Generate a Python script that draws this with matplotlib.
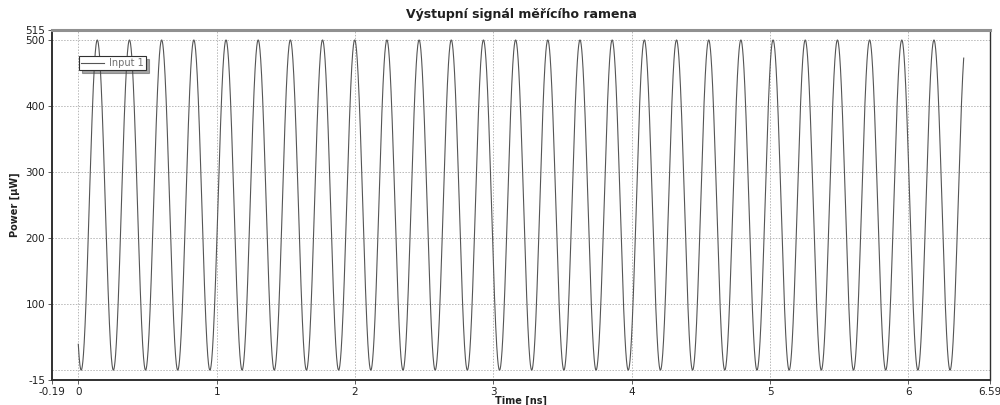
import numpy as np
import matplotlib
matplotlib.use("Agg")
import matplotlib.pyplot as plt

# --- values ---
title = "Výstupní signál měřícího ramena"
x_label = "Time [ns]"
y_label = "Power [μW]"
series_name = "Input 1"
t_start_ns = 0.0
t_end_ns = 6.4
period_ns = 0.2326          # spacing of successive peaks
first_trough_ns = 0.021     # time of first minimum
p_min_uW = 0.0
p_max_uW = 500.0
x_limits = [-0.19, 6.59]
y_limits = [-15, 515]
x_ticks = [-0.19, 0, 1, 2, 3, 4, 5, 6, 6.59]
x_tick_labels = ["-0.19", "0", "1", "2", "3", "4", "5", "6", "6.59"]
y_ticks = [-15, 100, 200, 300, 400, 500, 515]
y_tick_labels = ["-15", "100", "200", "300", "400", "500", "515"]
x_grid = [0, 1, 2, 3, 4, 5, 6]
y_grid = [0, 100, 200, 300, 400, 500]

# sampled detector signal
t = np.linspace(t_start_ns, t_end_ns, 6000)
p = p_min_uW + (p_max_uW - p_min_uW) * 0.5 * (
    1 - np.cos(2 * np.pi * (t - first_trough_ns) / period_ns))

plt.rcParams['font.family'] = ['DejaVu Sans']
fig = plt.figure(figsize=(10, 4.05), dpi=100)
ax = fig.add_axes([0.052, 0.0617, 0.938, 0.864])

for gx in x_grid:
    ax.axvline(gx, color="#b8b8b8", lw=0.7, ls=(0, (1.5, 1.5)), zorder=0)
for gy in y_grid:
    ax.axhline(gy, color="#b8b8b8", lw=0.7, ls=(0, (1.5, 1.5)), zorder=0)

ax.plot(t, p, color="#555555", lw=0.8, label=series_name)

ax.set_xlim(*x_limits)
ax.set_ylim(*y_limits)
ax.set_xticks(x_ticks)
ax.set_xticklabels(x_tick_labels)
ax.set_yticks(y_ticks)
ax.set_yticklabels(y_tick_labels)
ax.tick_params(axis="both", labelsize=7.5, length=3, width=0.6,
               color="#404040", labelcolor="#202020", pad=2)

for s in ["left", "bottom", "right"]:
    ax.spines[s].set_color("#303030")
    ax.spines[s].set_linewidth(1.0)
ax.spines["left"].set_linewidth(1.4)
ax.spines["bottom"].set_linewidth(1.4)
ax.spines["top"].set_color("#909090")
ax.spines["top"].set_linewidth(2.2)

ax.set_title(title, fontsize=9, fontweight="bold", pad=9, color="#202020")
ax.set_xlabel(x_label, fontsize=7, fontweight="bold", labelpad=-1, color="#202020")
ax.set_ylabel(y_label, fontsize=7, fontweight="bold", labelpad=4, color="#202020")

leg = ax.legend(loc="upper left", bbox_to_anchor=(0.029, 0.925), fontsize=7,
                frameon=True, fancybox=False, shadow=True, handlelength=2.4,
                handletextpad=0.5, borderpad=0.2, borderaxespad=0)
leg.get_frame().set_edgecolor("#303030")
leg.get_frame().set_linewidth(0.8)
for txt in leg.get_texts():
    txt.set_color("#707070")

fig.savefig("out.png", dpi=100)
